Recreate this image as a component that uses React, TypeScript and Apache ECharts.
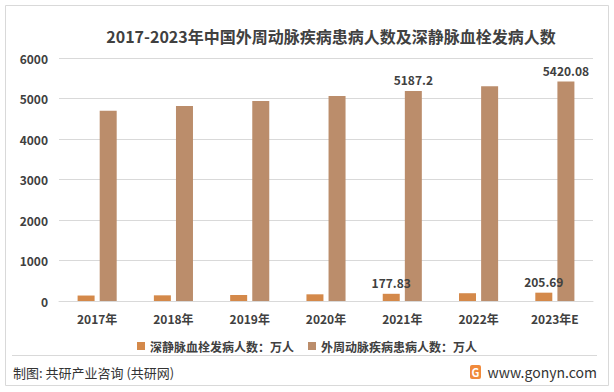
import React, { useEffect, useRef } from "react";
import * as echarts from "echarts";

const categories = ["2017年", "2018年", "2019年", "2020年", "2021年", "2022年", "2023年E"];
const dvtValues = [135, 140, 148, 165, 177.83, 192, 205.69];
const padValues = [4695, 4815, 4940, 5062, 5187.2, 5302, 5420.08];
const labeledIndexes = [4, 6];
const yTicks = { min: 0, max: 6000, interval: 1000 };
const seriesNames = ["深静脉血栓发病人数：万人", "外周动脉疾病患病人数：万人"];

const FONT = "'Noto Sans CJK SC', 'Noto Sans', sans-serif";

export default function App() {
  const ref = useRef<HTMLDivElement>(null);
  useEffect(() => {
    if (!ref.current) return;
    const chart = echarts.init(ref.current, null, { renderer: "svg" });
    const labelFor = (arr: number[]) =>
      arr.map((v, i) =>
        labeledIndexes.includes(i)
          ? { value: v, label: { show: true } }
          : { value: v }
      );
    const labelStyle = {
      show: false,
      position: "top" as const,
      distance: 5,
      color: "#404040",
      fontSize: 12,
      fontWeight: "bold" as const,
      fontFamily: FONT,
    };
    chart.setOption({
      animation: false,
      textStyle: { fontFamily: FONT },
      grid: { left: 59, right: 21, top: 58, bottom: 91 },
      xAxis: {
        type: "category",
        data: categories,
        axisLine: { lineStyle: { color: "#d9d9d9" } },
        axisTick: { show: false },
        axisLabel: { color: "#404040", fontSize: 12, margin: 11, fontWeight: "bold", fontFamily: FONT },
      },
      yAxis: {
        type: "value",
        min: yTicks.min,
        max: yTicks.max,
        interval: yTicks.interval,
        axisLine: { show: false },
        axisTick: { show: false },
        splitLine: { lineStyle: { color: "#d9d9d9" } },
        axisLabel: {
          color: "#404040",
          fontSize: 12,
          margin: 11,
          fontWeight: "bold",
          fontFamily: FONT,
          formatter: (v: number) => String(v),
        },
      },
      legend: {
        data: seriesNames,
        top: 335,
        left: "center",
        itemWidth: 8,
        itemHeight: 8,
        itemGap: 14,
        icon: "rect",
        textStyle: { color: "#404040", fontSize: 12, fontWeight: "bold", fontFamily: FONT },
      },
      series: [
        {
          name: seriesNames[0],
          type: "bar",
          data: labelFor(dvtValues),
          barWidth: 17,
          barGap: "30%",
          itemStyle: { color: "#D4894A" },
          label: labelStyle,
        },
        {
          name: seriesNames[1],
          type: "bar",
          data: labelFor(padValues),
          barWidth: 17,
          itemStyle: { color: "#BB8D6B" },
          label: labelStyle,
        },
      ],
      graphic: [
        {
          type: "rect",
          shape: { x: 5.5, y: 5.5, width: 603, height: 380 },
          style: { fill: "none", stroke: "#d9d9d9", lineWidth: 1 },
          silent: true,
        },
        {
          type: "text",
          x: 331,
          y: 36,
          style: {
            text: "2017-2023年中国外周动脉疾病患病人数及深静脉血栓发病人数",
            fill: "#404040",
            fontSize: 16,
            fontWeight: "bold",
            fontFamily: FONT,
            align: "center",
            verticalAlign: "middle",
          },
        },
        {
          type: "line",
          shape: { x1: 12, y1: 355.5, x2: 597, y2: 355.5 },
          style: { stroke: "#d9d9d9", lineWidth: 1 },
        },
        {
          type: "text",
          x: 13,
          y: 372,
          style: {
            text: "制图: 共研产业咨询 (共研网)",
            fill: "#333333",
            fontSize: 13,
            fontFamily: FONT,
            verticalAlign: "middle",
          },
        },
        {
          type: "rect",
          shape: { x: 470, y: 365, width: 11, height: 14, r: 2 },
          style: { fill: "#F08A3C" },
        },
        {
          type: "text",
          x: 475.5,
          y: 372,
          style: {
            text: "G",
            fill: "#ffffff",
            fontSize: 11,
            fontWeight: "bold",
            fontFamily: FONT,
            align: "center",
            verticalAlign: "middle",
          },
        },
        {
          type: "text",
          x: 597,
          y: 372,
          style: {
            text: "www.gonyn.com",
            fill: "#333333",
            fontSize: 14,
            fontFamily: FONT,
            align: "right",
            verticalAlign: "middle",
          },
        },
      ],
    });
    return () => chart.dispose();
  }, []);
  return <div ref={ref} style={{ width: 614, height: 392, position: "absolute", left: 0, top: 0, background: "#fff" }} />;
}
